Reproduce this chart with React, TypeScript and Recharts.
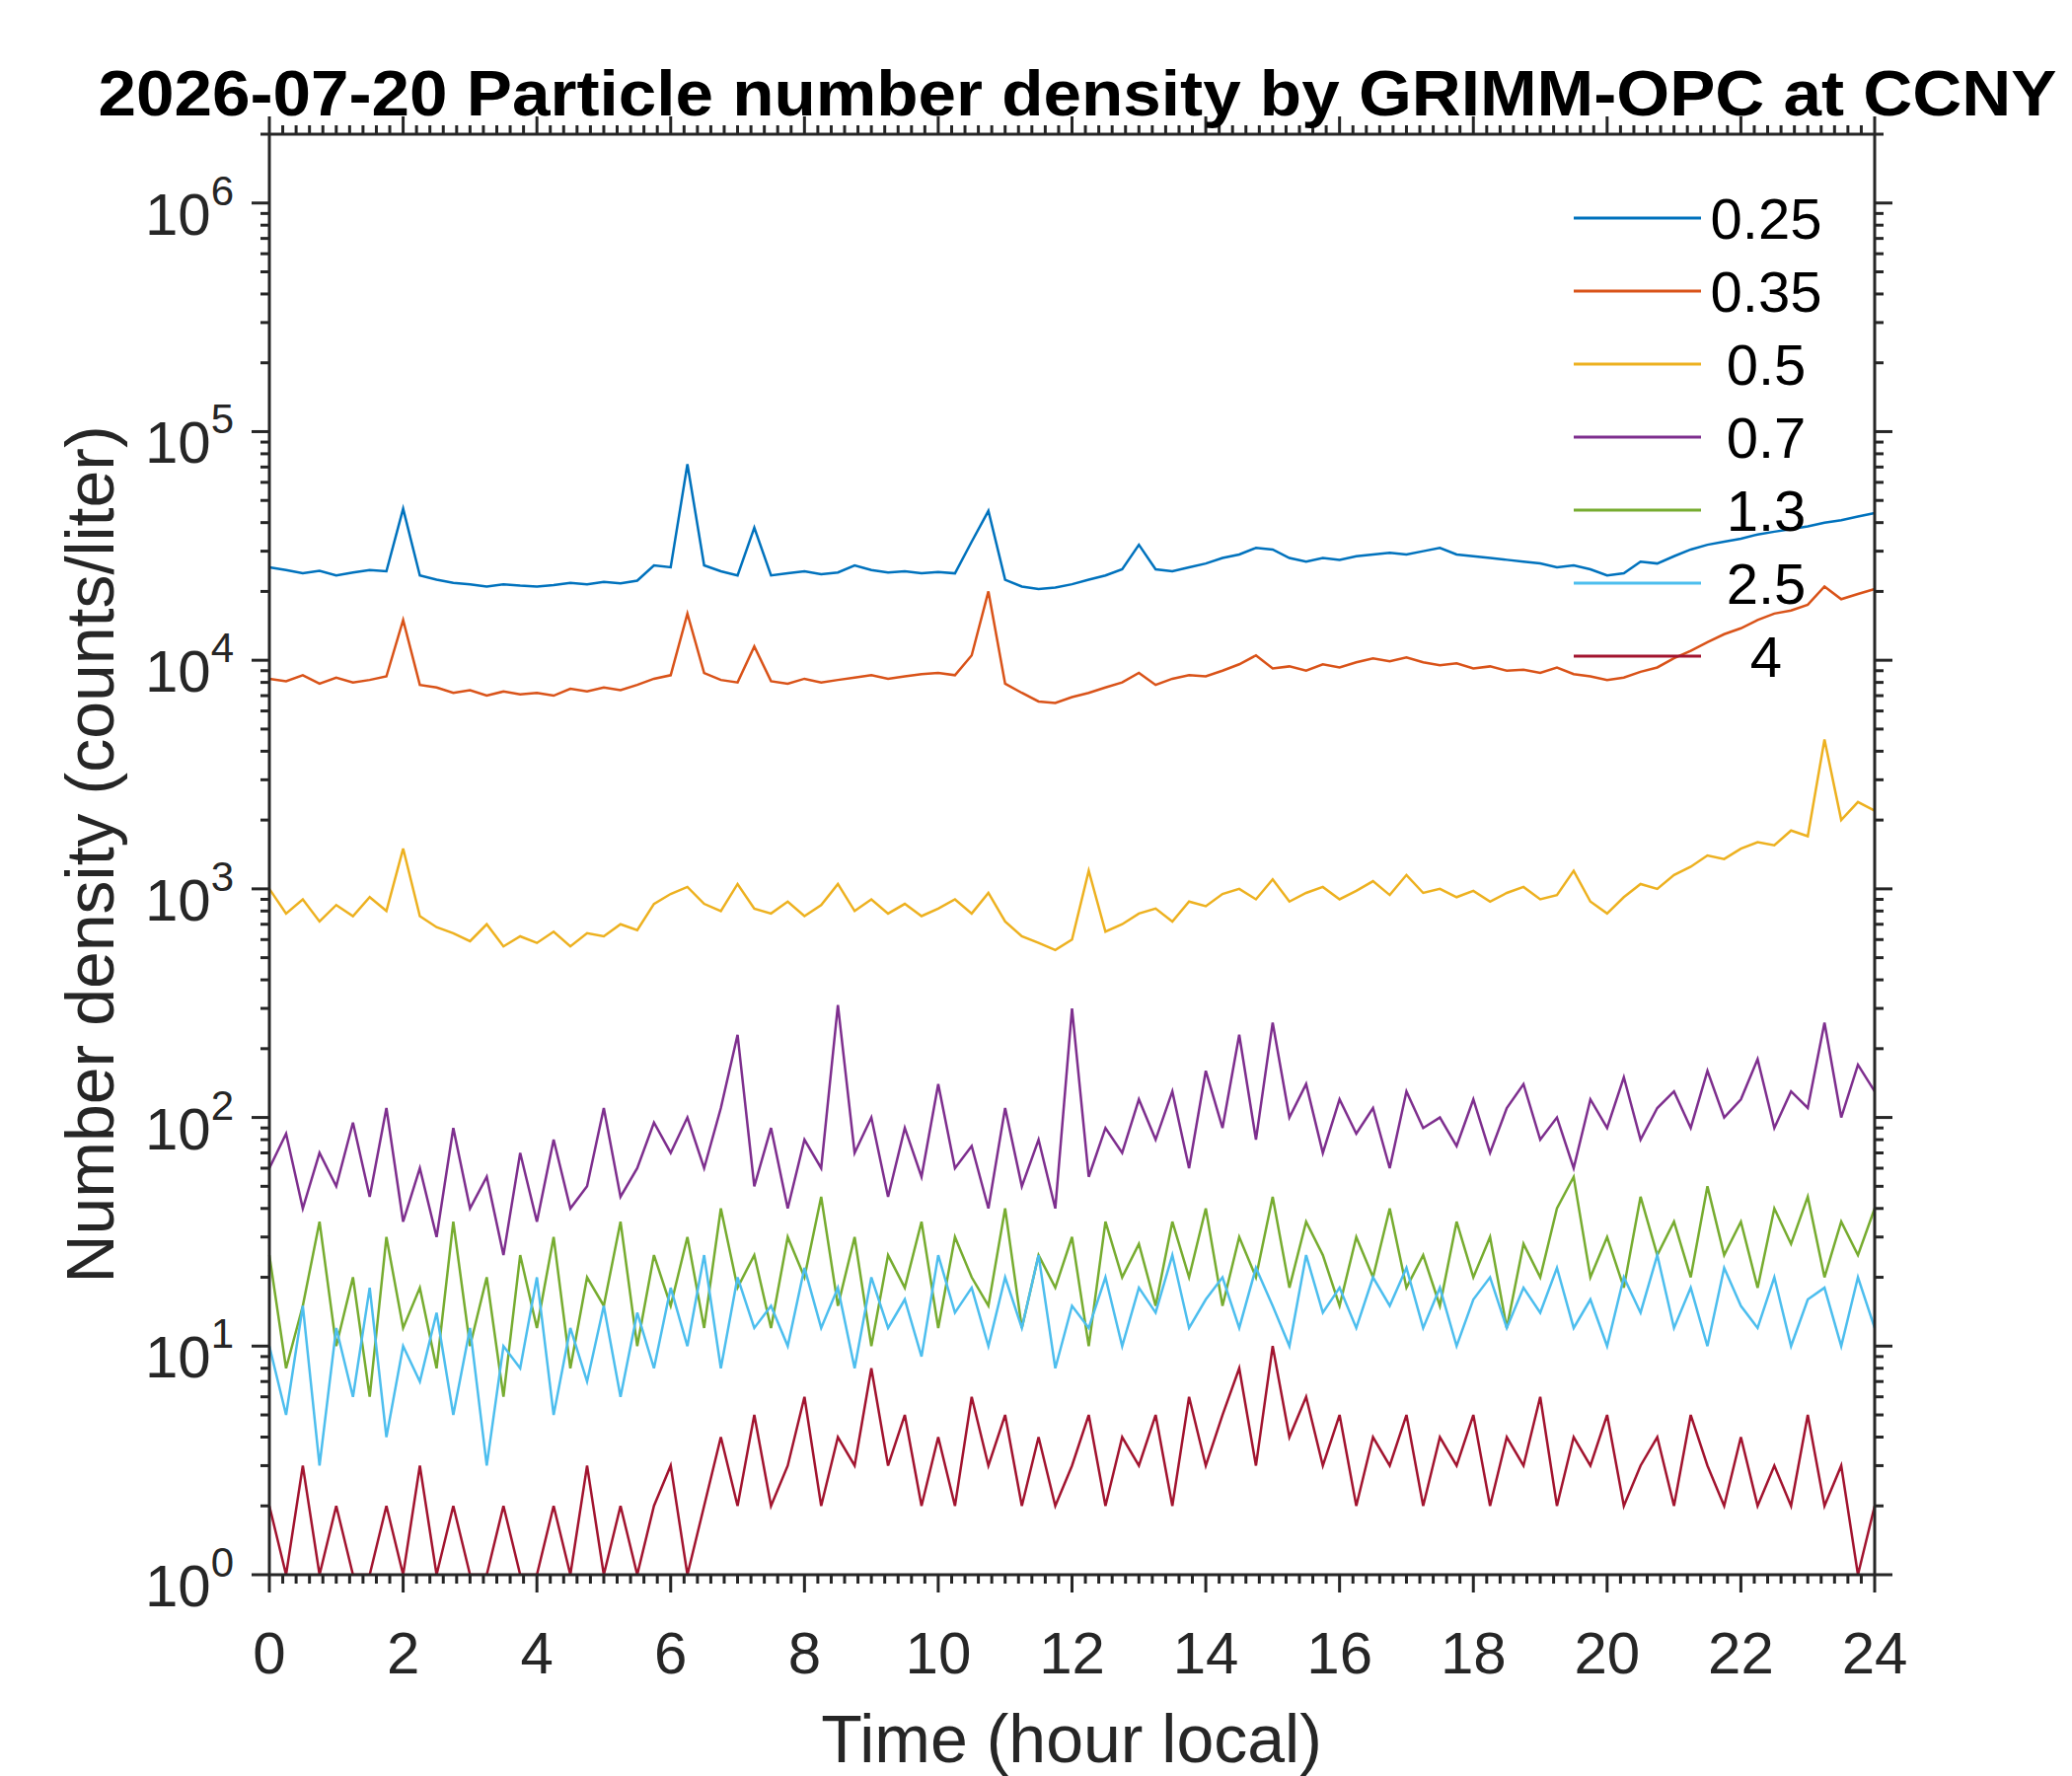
import { LineChart, Line, XAxis, YAxis } from 'recharts';

const sizes = ['0.25', '0.35', '0.5', '0.7', '1.3', '2.5', '4'];
const colors = ['#0072BD', '#D95319', '#EDB120', '#7E2F8E', '#77AC30', '#4DBEEE', '#A2142F'];

// samples every 15 minutes, 0..24 h
const s025 = [25500, 24800, 24000, 24600, 23500, 24200, 24800, 24500, 46000, 23500, 22500, 21800, 21500, 21000, 21500, 21200, 21000, 21300, 21800, 21500, 22000, 21700, 22300, 26000, 25500, 72000, 26000, 24500, 23500, 38000, 23500, 24000, 24500, 23800, 24200, 26000, 24800, 24200, 24500, 24000, 24300, 24000, 33000, 45000, 22500, 21000, 20500, 20800, 21500, 22500, 23500, 25000, 32000, 25000, 24500, 25500, 26500, 28000, 29000, 31000, 30500, 28000, 27000, 28000, 27500, 28500, 29000, 29500, 29000, 30000, 31000, 29000, 28500, 28000, 27500, 27000, 26500, 25500, 26000, 25000, 23500, 24000, 27000, 26500, 28500, 30500, 32000, 33000, 34000, 35500, 36500, 37500, 38500, 40000, 41000, 42500, 44000];
const s035 = [8300, 8100, 8600, 7900, 8400, 8000, 8200, 8500, 15000, 7800, 7600, 7200, 7400, 7000, 7300, 7100, 7200, 7000, 7500, 7300, 7600, 7400, 7800, 8300, 8600, 16000, 8800, 8200, 8000, 11500, 8100, 7900, 8300, 8000, 8200, 8400, 8600, 8300, 8500, 8700, 8800, 8600, 10500, 20000, 7900, 7200, 6600, 6500, 6900, 7200, 7600, 8000, 8800, 7800, 8300, 8600, 8500, 9000, 9600, 10500, 9200, 9400, 9000, 9600, 9300, 9800, 10200, 9900, 10300, 9800, 9500, 9700, 9200, 9400, 9000, 9100, 8800, 9300, 8700, 8500, 8200, 8400, 8900, 9300, 10200, 11000, 12000, 13000, 13800, 15000, 16000, 16500, 17500, 21000, 18500, 19500, 20500];
const s05 = [1000, 780, 900, 720, 850, 760, 920, 800, 1500, 760, 680, 640, 590, 700, 560, 620, 580, 650, 560, 640, 620, 700, 660, 860, 950, 1020, 860, 800, 1050, 820, 780, 880, 760, 850, 1050, 800, 900, 780, 860, 760, 820, 900, 780, 960, 720, 620, 580, 540, 600, 1200, 650, 700, 780, 820, 720, 880, 840, 950, 1000, 900, 1100, 880, 960, 1020, 900, 980, 1080, 940, 1150, 960, 1000, 920, 980, 880, 960, 1020, 900, 940, 1200, 880, 780, 920, 1050, 1000, 1150, 1250, 1400, 1350, 1500, 1600, 1550, 1800, 1700, 4500, 2000, 2400, 2200];
const s07 = [60, 85, 40, 70, 50, 95, 45, 110, 35, 60, 30, 90, 40, 55, 25, 70, 35, 80, 40, 50, 110, 45, 60, 95, 70, 100, 60, 110, 230, 50, 90, 40, 80, 60, 310, 70, 100, 45, 90, 55, 140, 60, 75, 40, 110, 50, 80, 40, 300, 55, 90, 70, 120, 80, 130, 60, 160, 90, 230, 80, 260, 100, 140, 70, 120, 85, 110, 60, 130, 90, 100, 75, 120, 70, 110, 140, 80, 100, 60, 120, 90, 150, 80, 110, 130, 90, 160, 100, 120, 180, 90, 130, 110, 260, 100, 170, 130];
const s13 = [25, 8, 15, 35, 10, 20, 6, 30, 12, 18, 8, 35, 10, 20, 6, 25, 12, 30, 8, 20, 15, 35, 10, 25, 15, 30, 12, 40, 18, 25, 12, 30, 20, 45, 15, 30, 10, 25, 18, 35, 12, 30, 20, 15, 40, 12, 25, 18, 30, 10, 35, 20, 28, 15, 35, 20, 40, 15, 30, 20, 45, 18, 35, 25, 15, 30, 20, 40, 18, 25, 15, 35, 20, 30, 12, 28, 20, 40, 55, 20, 30, 18, 45, 25, 35, 20, 50, 25, 35, 18, 40, 28, 45, 20, 35, 25, 40];
const s25 = [10, 5, 15, 3, 12, 6, 18, 4, 10, 7, 14, 5, 12, 3, 10, 8, 20, 5, 12, 7, 15, 6, 14, 8, 18, 10, 25, 8, 20, 12, 15, 10, 22, 12, 18, 8, 20, 12, 16, 9, 25, 14, 18, 10, 20, 12, 25, 8, 15, 12, 20, 10, 18, 14, 25, 12, 16, 20, 12, 22, 15, 10, 25, 14, 18, 12, 20, 15, 22, 12, 18, 10, 16, 20, 12, 18, 14, 22, 12, 16, 10, 20, 14, 25, 12, 18, 10, 22, 15, 12, 20, 10, 16, 18, 10, 20, 12];
const s4 = [2, 1, 3, 1, 2, 1, 1, 2, 1, 3, 1, 2, 1, 1, 2, 1, 1, 2, 1, 3, 1, 2, 1, 2, 3, 1, 2, 4, 2, 5, 2, 3, 6, 2, 4, 3, 8, 3, 5, 2, 4, 2, 6, 3, 5, 2, 4, 2, 3, 5, 2, 4, 3, 5, 2, 6, 3, 5, 8, 3, 10, 4, 6, 3, 5, 2, 4, 3, 5, 2, 4, 3, 5, 2, 4, 3, 6, 2, 4, 3, 5, 2, 3, 4, 2, 5, 3, 2, 4, 2, 3, 2, 5, 2, 3, 1, 2];
const series = [s025, s035, s05, s07, s13, s25, s4];

const xMajor = [0, 2, 4, 6, 8, 10, 12, 14, 16, 18, 20, 22, 24];
const yDecades = [0, 1, 2, 3, 4, 5, 6];

const data = s025.map((_, i) => {
  const row: any = { t: i * 0.25 };
  series.forEach((s, k) => (row['k' + k] = s[i]));
  return row;
});

const xTicks: number[] = [];
for (let i = 0; i <= 120; i++) xTicks.push(Math.round(i * 20) / 100);
const yTicks: number[] = [];
yDecades.forEach((d) => {
  for (let m = 1; m <= 9; m++) {
    const v = m * Math.pow(10, d);
    if (v <= 2e6) yTicks.push(v);
  }
});

const ink = '#262626';
const font = 'Liberation Sans, Arial, sans-serif';

function BottomTick({ x, y, payload, top }: any) {
  const v = payload.value;
  const major = xMajor.includes(v);
  const len = major ? 18 : 9;
  const dir = top ? -1 : 1;
  return (
    <g>
      <line x1={x} x2={x} y1={y} y2={y + dir * len} stroke={ink} strokeWidth={3} />
      {major && !top && (
        <text x={x} y={y + 100} textAnchor="middle" fontSize={60} fill={ink} fontFamily={font}>
          {v}
        </text>
      )}
    </g>
  );
}

function LeftTick({ x, y, payload, right }: any) {
  const v = payload.value;
  const d = Math.log10(v);
  const major = Math.abs(d - Math.round(d)) < 1e-9;
  const len = major ? 18 : 9;
  const dir = right ? 1 : -1;
  return (
    <g>
      <line x1={x} x2={x + dir * len} y1={y} y2={y} stroke={ink} strokeWidth={3} />
      {major && !right && (
        <text x={x - 36} y={y + 32} textAnchor="end" fontSize={60} fill={ink} fontFamily={font}>
          10
          <tspan dy={-30} fontSize={42}>
            {Math.round(d)}
          </tspan>
        </text>
      )}
    </g>
  );
}

export default function App() {
  return (
    <div style={{ position: 'absolute', left: 0, top: 0, width: 2100, height: 1800, background: '#fff' }}>
      <LineChart width={2100} height={1800} data={data} margin={{ top: 135, right: 199, bottom: 203, left: 272 }}>
        <XAxis xAxisId="b" dataKey="t" type="number" domain={[0, 24]} ticks={xTicks} interval={0}
          height={1} tickSize={0} tickMargin={0} tickLine={false}
          axisLine={{ stroke: ink, strokeWidth: 3 }} tick={<BottomTick />} />
        <XAxis xAxisId="t" dataKey="t" type="number" orientation="top" domain={[0, 24]} ticks={xTicks} interval={0}
          height={1} tickSize={0} tickMargin={0} tickLine={false}
          axisLine={{ stroke: ink, strokeWidth: 3 }} tick={<BottomTick top />} />
        <YAxis yAxisId="l" scale="log" domain={[1, 2e6]} allowDataOverflow ticks={yTicks} interval={0}
          width={1} tickSize={0} tickMargin={0} tickLine={false}
          axisLine={{ stroke: ink, strokeWidth: 3 }} tick={<LeftTick />} />
        <YAxis yAxisId="r" orientation="right" scale="log" domain={[1, 2e6]} allowDataOverflow ticks={yTicks} interval={0}
          width={1} tickSize={0} tickMargin={0} tickLine={false}
          axisLine={{ stroke: ink, strokeWidth: 3 }} tick={<LeftTick right />} />
        {sizes.map((s, k) => (
          <Line key={s} xAxisId="b" yAxisId="l" dataKey={'k' + k} stroke={colors[k]} strokeWidth={2.5}
            dot={false} type="linear" isAnimationActive={false} />
        ))}
      </LineChart>
      <svg width={2100} height={1800} style={{ position: 'absolute', left: 0, top: 0, pointerEvents: 'none' }}>
        <text x={1092} y={117} textAnchor="middle" fontSize={64} fontWeight="bold" fill="#000" fontFamily={font}
          textLength={1985} lengthAdjust="spacingAndGlyphs">
          2026-07-20 Particle number density by GRIMM-OPC at CCNY
        </text>
        <text x={1086} y={1762} textAnchor="middle" dominantBaseline="central" fontSize={68} fill={ink} fontFamily={font}>
          Time (hour local)
        </text>
        <text transform="translate(91,866) rotate(-90)" textAnchor="middle" dominantBaseline="central" fontSize={68} fill={ink} fontFamily={font}>
          Number density (counts/liter)
        </text>
        {sizes.map((s, k) => (
          <g key={s}>
            <line x1={1595} x2={1724} y1={221 + k * 74} y2={221 + k * 74} stroke={colors[k]} strokeWidth={3} />
            <text x={1790} y={221 + k * 74} textAnchor="middle" dominantBaseline="central" fontSize={58} fill="#000" fontFamily={font}>
              {s}
            </text>
          </g>
        ))}
      </svg>
    </div>
  );
}
